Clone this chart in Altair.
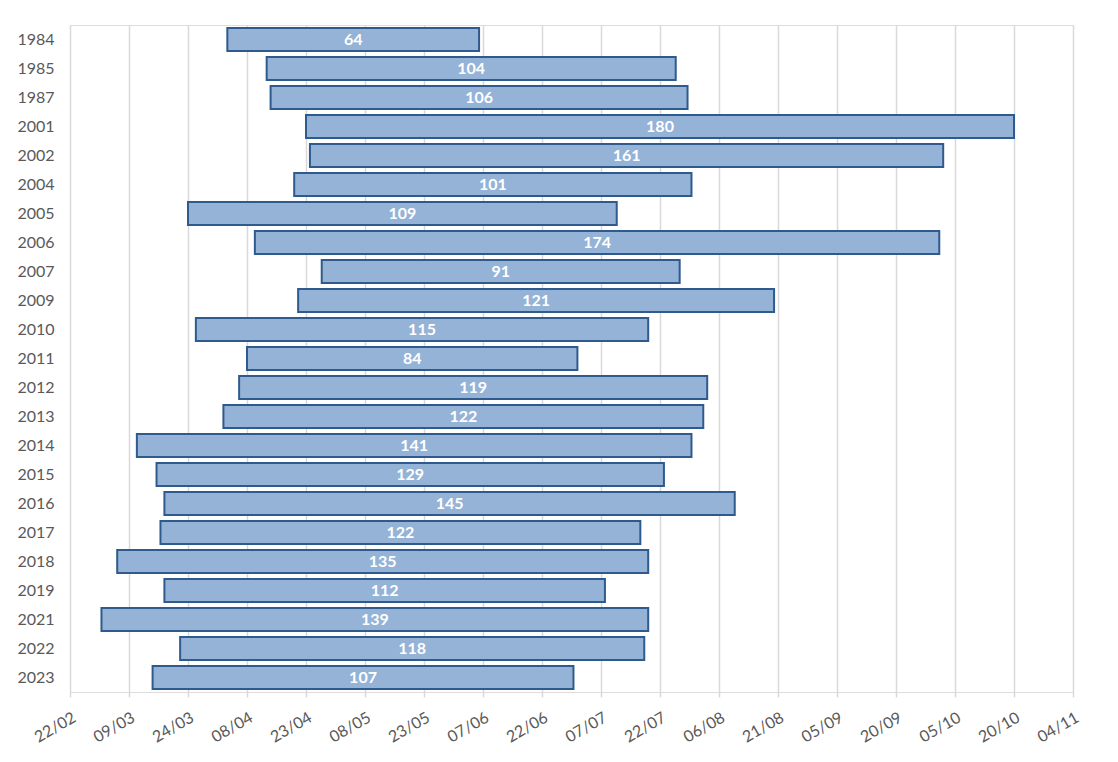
import altair as alt
import pandas as pd

years = ["1984", "1985", "1987", "2001", "2002", "2004", "2005", "2006", "2007", "2009",
         "2010", "2011", "2012", "2013", "2014", "2015", "2016", "2017", "2018", "2019",
         "2021", "2022", "2023"]
start_dates = ["04-03", "04-13", "04-14", "04-23", "04-24", "04-20", "03-24", "04-10", "04-27", "04-21",
               "03-26", "04-08", "04-06", "04-02", "03-11", "03-16", "03-18", "03-17", "03-06", "03-18",
               "03-02", "03-22", "03-15"]
durations = [64, 104, 106, 180, 161, 101, 109, 174, 91, 121,
             115, 84, 119, 122, 141, 129, 145, 122, 135, 112,
             139, 118, 107]
tick_dates = ["02-22", "03-09", "03-24", "04-08", "04-23", "05-08", "05-23", "06-07", "06-22",
              "07-07", "07-22", "08-06", "08-21", "09-05", "09-20", "10-05", "10-20", "11-04"]


def doy(md):
    return int(pd.Timestamp("2001-" + md).dayofyear)


df = pd.DataFrame({
    "year": years,
    "start": [doy(s) for s in start_dates],
    "dur": durations,
})
df["end"] = df["start"] + df["dur"]
df["mid"] = (df["start"] + df["end"]) / 2

tick_vals = [doy(t) for t in tick_dates]

FONT = "Lato"

x_scale = alt.Scale(domain=[tick_vals[0], tick_vals[-1]], nice=False, zero=False)
y_scale = alt.Scale(domain=years, paddingInner=0.2, paddingOuter=0.1)

base = alt.Chart(df)

bars = base.mark_bar(color="#95B3D7", stroke="#2F5A8E", strokeWidth=2, cornerRadius=0).encode(
    x=alt.X("start:Q", scale=x_scale, title=None,
            axis=alt.Axis(values=tick_vals, grid=True, gridColor="#D9D9D9", gridWidth=1.5,
                          domain=False, ticks=True, tickColor="#D9D9D9", tickSize=5, tickWidth=1.5,
                          labelExpr="timeFormat(datetime(2001, 0, datum.value), '%d/%m')",
                          labelAngle=330, labelAlign="right", labelBaseline="top",
                          labelPadding=12, labelFont=FONT, labelFontSize=16, labelColor="#595959",
                          labelOverlap=False, labelFlush=False)),
    x2="end:Q",
    y=alt.Y("year:N", scale=y_scale, title=None, sort=years,
            axis=alt.Axis(domain=False, ticks=False, labelPadding=16, labelFont=FONT,
                          labelFontSize=16, labelColor="#595959")),
)

labels = base.mark_text(color="white", font=FONT, fontSize=16, fontWeight="bold",
                        align="center", baseline="middle").encode(
    x=alt.X("mid:Q", scale=x_scale),
    y=alt.Y("year:N", scale=y_scale, sort=years),
    text="dur:Q",
)

chart = (bars + labels).properties(
    width=1003, height=667,
    autosize=alt.AutoSizeParams(type="none"),
    padding={"left": 62, "top": 17, "right": 30, "bottom": 60},
).configure_view(stroke=None).configure(background="white")

chart.save("out.html", embed_options={"renderer": "svg", "actions": False})
